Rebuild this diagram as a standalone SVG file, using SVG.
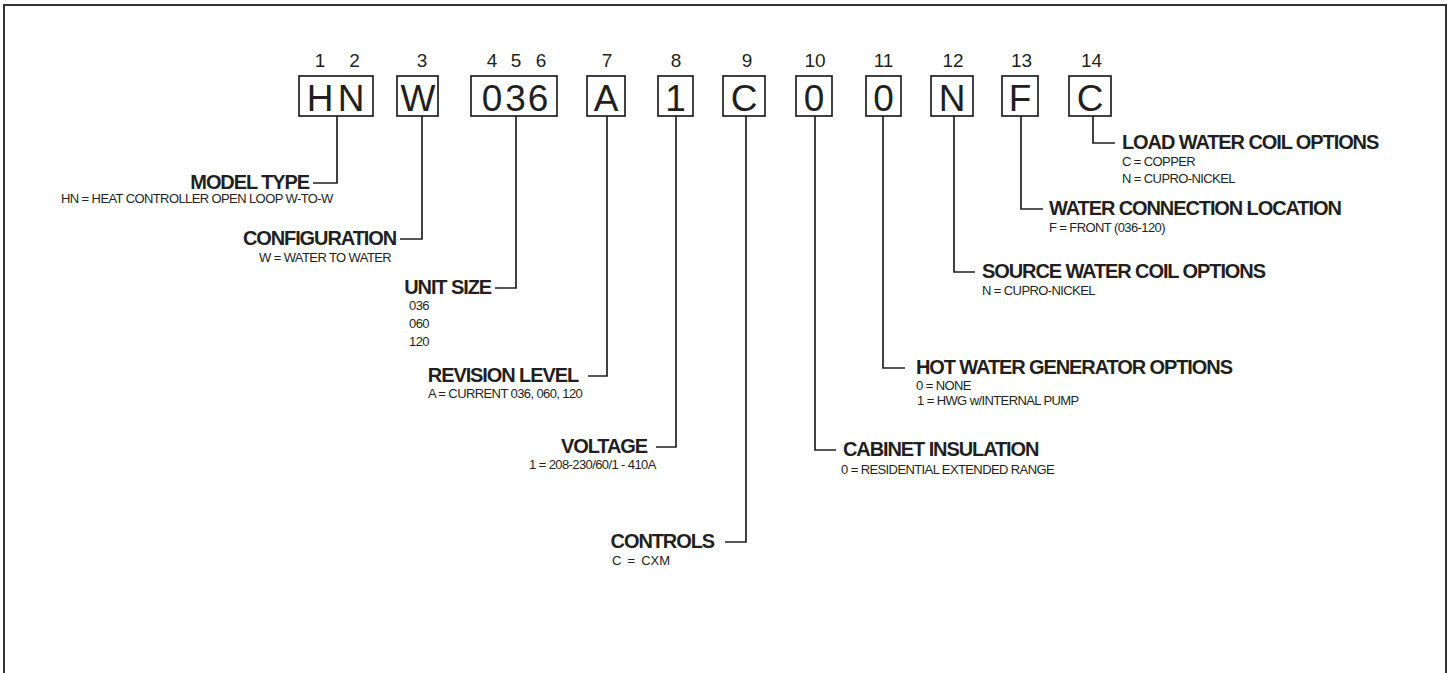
<svg xmlns="http://www.w3.org/2000/svg" width="1452" height="673" viewBox="0 0 1452 673">
<style>
  .bg{fill:#ffffff}
  .frame{fill:none;stroke:#333333;stroke-width:2}
  .box{fill:#ffffff;stroke:#231f20;stroke-width:1.7}
  .code{font-family:"Liberation Sans",Arial,sans-serif;font-size:37px;fill:#231f20;text-anchor:middle}
  .num{font-family:"Liberation Sans",Arial,sans-serif;font-size:19px;fill:#231f20;text-anchor:middle}
  .hd{font-family:"Liberation Sans",Arial,sans-serif;font-size:20px;font-weight:bold;fill:#231f20;letter-spacing:-1.1px}
  .hd.r{text-anchor:end}
  .sub{font-family:"Liberation Sans",Arial,sans-serif;font-size:13px;fill:#231f20;letter-spacing:-0.6px}
  .conn{fill:none;stroke:#231f20;stroke-width:1.7}
</style>
<rect class="bg" x="0" y="0" width="1452" height="673"/>
<path class="frame" d="M4 680 V5 H1446 V680"/>

<g id="connectors">
  <path class="conn" d="M337 116 V183 H313"/>
  <path class="conn" d="M422 116 V239 H400"/>
  <path class="conn" d="M516 116 V288 H495"/>
  <path class="conn" d="M607 116 V376 H588"/>
  <path class="conn" d="M676 116 V447 H656"/>
  <path class="conn" d="M746 116 V542 H725"/>
  <path class="conn" d="M815 116 V450 H836"/>
  <path class="conn" d="M883 116 V368 H905"/>
  <path class="conn" d="M954 116 V272 H975"/>
  <path class="conn" d="M1021 116 V209 H1043"/>
  <path class="conn" d="M1093 116 V143 H1115"/>
</g>

<g id="digit-1-2">
  <text class="num" x="320 354.5" y="67">12</text>
  <rect class="box" x="299" y="76" width="74" height="40"/>
  <text class="code" x="320 351" y="111">HN</text>
</g>
<g id="digit-3">
  <text class="num" x="422" y="67">3</text>
  <rect class="box" x="397" y="76" width="41" height="40"/>
  <text class="code" x="418" y="111">W</text>
</g>
<g id="digit-4-5-6">
  <text class="num" x="492 516 541" y="67">456</text>
  <rect class="box" x="471" y="76" width="86" height="40"/>
  <text class="code" x="492 515.5 538" y="111">036</text>
</g>
<g id="digit-7">
  <text class="num" x="607" y="67">7</text>
  <rect class="box" x="587" y="76" width="38" height="40"/>
  <text class="code" x="606" y="111">A</text>
</g>
<g id="digit-8">
  <text class="num" x="676" y="67">8</text>
  <rect class="box" x="658" y="76" width="35" height="40"/>
  <text class="code" x="675.5" y="111">1</text>
</g>
<g id="digit-9">
  <text class="num" x="747" y="67">9</text>
  <rect class="box" x="723" y="76" width="42" height="40"/>
  <text class="code" x="744" y="111">C</text>
</g>
<g id="digit-10">
  <text class="num" x="815" y="67">10</text>
  <rect class="box" x="796" y="76" width="36" height="40"/>
  <text class="code" x="814" y="111">0</text>
</g>
<g id="digit-11">
  <text class="num" x="883.5" y="67">11</text>
  <rect class="box" x="866" y="76" width="35" height="40"/>
  <text class="code" x="883.5" y="111">0</text>
</g>
<g id="digit-12">
  <text class="num" x="953" y="67">12</text>
  <rect class="box" x="931" y="76" width="42" height="40"/>
  <text class="code" x="952" y="111">N</text>
</g>
<g id="digit-13">
  <text class="num" x="1021.5" y="67">13</text>
  <rect class="box" x="1002" y="76" width="36" height="40"/>
  <text class="code" x="1020" y="111">F</text>
</g>
<g id="digit-14">
  <text class="num" x="1091.5" y="67">14</text>
  <rect class="box" x="1069" y="76" width="42" height="40"/>
  <text class="code" x="1090" y="111">C</text>
</g>

<g id="label-model-type">
  <text class="hd r" x="309" y="189">MODEL TYPE</text>
  <text class="sub" x="61" y="203">HN = HEAT CONTROLLER OPEN LOOP W-TO-W</text>
</g>
<g id="label-configuration">
  <text class="hd r" x="396" y="245">CONFIGURATION</text>
  <text class="sub" x="259" y="262">W = WATER TO WATER</text>
</g>
<g id="label-unit-size">
  <text class="hd r" x="491" y="294">UNIT SIZE</text>
  <text class="sub" x="409" y="310">036</text>
  <text class="sub" x="409" y="328">060</text>
  <text class="sub" x="409" y="346">120</text>
</g>
<g id="label-revision-level">
  <text class="hd r" x="578" y="382">REVISION LEVEL</text>
  <text class="sub" x="428" y="398">A = CURRENT 036, 060, 120</text>
</g>
<g id="label-voltage">
  <text class="hd r" x="647" y="453">VOLTAGE</text>
  <text class="sub" x="529" y="469">1 = 208-230/60/1 - 410A</text>
</g>
<g id="label-controls">
  <text class="hd r" x="714" y="548">CONTROLS</text>
  <text class="sub" x="612" y="565" style="font-size:13px;letter-spacing:0;word-spacing:2.5px">C = CXM</text>
</g>
<g id="label-cabinet-insulation">
  <text class="hd" x="843" y="456">CABINET INSULATION</text>
  <text class="sub" x="841" y="474">0 = RESIDENTIAL EXTENDED RANGE</text>
</g>
<g id="label-hot-water-generator">
  <text class="hd" x="916" y="374">HOT WATER GENERATOR OPTIONS</text>
  <text class="sub" x="916" y="390">0 = NONE</text>
  <text class="sub" x="917" y="405">1 = HWG w/INTERNAL PUMP</text>
</g>
<g id="label-source-water-coil">
  <text class="hd" x="982" y="278">SOURCE WATER COIL OPTIONS</text>
  <text class="sub" x="982" y="295">N = CUPRO-NICKEL</text>
</g>
<g id="label-water-connection">
  <text class="hd" x="1049" y="215">WATER CONNECTION LOCATION</text>
  <text class="sub" x="1049" y="232">F = FRONT (036-120)</text>
</g>
<g id="label-load-water-coil">
  <text class="hd" x="1122" y="149">LOAD WATER COIL OPTIONS</text>
  <text class="sub" x="1122" y="166">C = COPPER</text>
  <text class="sub" x="1122" y="183">N = CUPRO-NICKEL</text>
</g>
</svg>
